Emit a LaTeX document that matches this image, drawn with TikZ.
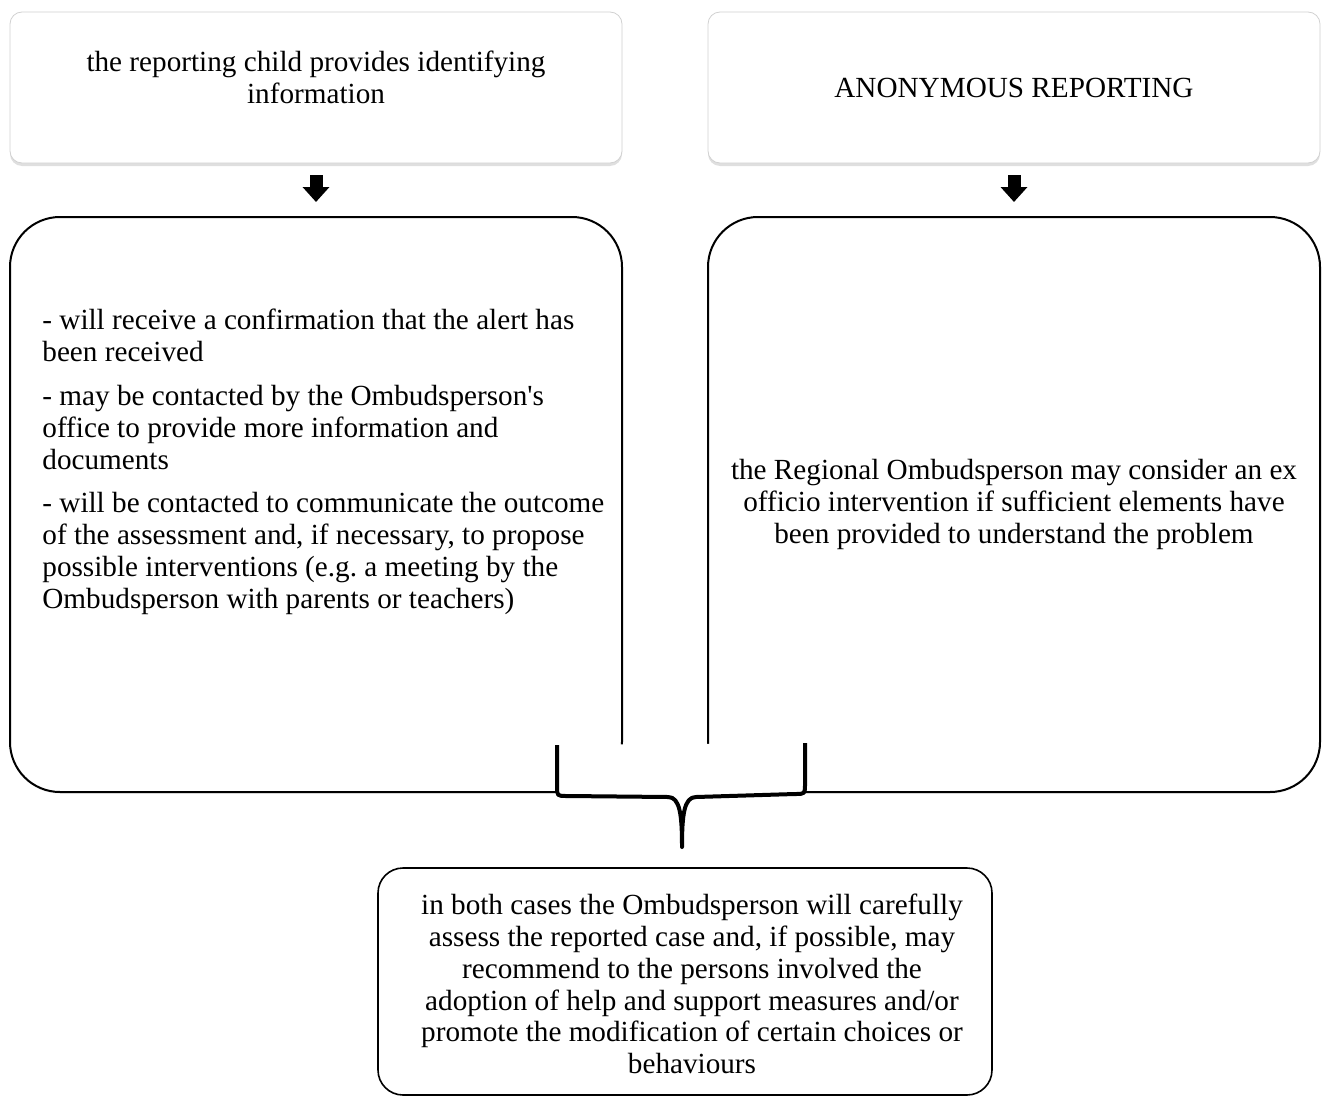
\documentclass[tikz,border=0pt]{standalone}
\usepackage{fontspec}
\setmainfont{Liberation Serif}
\usetikzlibrary{positioning}
\usetikzlibrary{shadows}
\usetikzlibrary{arrows.meta}
\frenchspacing

\begin{document}
\begin{tikzpicture}[
      x=0.5pt, y=-0.5pt,
      font=\fontsize{14.6pt}{15.9pt}\selectfont,
      headbox/.style={draw=black!18, rectangle, rounded corners=6pt, fill=white,
                  minimum width=306pt, minimum height=75.5pt, align=center,
                  drop shadow={shadow xshift=0pt, shadow yshift=-1.5pt, opacity=0.25}},
      infobox/.style={draw, line width=1pt, rounded corners=25pt, fill=white,
                  minimum width=306pt, minimum height=287.5pt, align=center,
                  drop shadow={shadow xshift=0pt, shadow yshift=-0.8pt, opacity=0.15}},
      endbox/.style={draw, line width=0.8pt, rounded corners=12.5pt, fill=white,
                  minimum width=307pt, minimum height=113.5pt, align=center},
      txt/.style={inner sep=0pt, align=left},
      down/.style={line width=6.5pt, -{Triangle[width=13pt,length=7.5pt]},
                  shorten <=6pt, shorten >=7pt},
      brace/.style={line width=2pt, fill=white, line join=round}
    ]
    \useasboundingbox (0,0) rectangle (1327,1097);

    % Top boxes
    \node[headbox] (child) at (316,87.5) {};
    \node[txt, align=center] (childtext) at (316,77)
      {the reporting child provides identifying\\information};
    \node[headbox] (anon) at (1014,87.5) {ANONYMOUS REPORTING};

    % Middle boxes
    \node[infobox] (childinfo) at (316,504.5) {};
    \node[txt, anchor=north west] (childsteps) at (42,309)
      {- will receive a confirmation that the alert has\\
       been received\\[6pt]
       - may be contacted by the Ombudsperson\textquotesingle s\\
       office to provide more information and\\
       documents\\[6pt]
       - will be contacted to communicate the outcome\\
       of the assessment and, if necessary, to propose\\
       possible interventions (e.g. a meeting by the\\
       Ombudsperson with parents or teachers)};
    \node[infobox] (anoninfo) at (1014,504.5)
      {the Regional Ombudsperson may consider an ex\\
       officio intervention if sufficient elements have\\
       been provided to understand the problem};

    % Arrows between boxes
    \draw[down] (child) -- (childinfo);
    \draw[down] (anon) -- (anoninfo);

    % Brace joining both cases
    \coordinate (braceL) at (557,745);
    \coordinate (braceR) at (805,743);
    \coordinate (tip) at (682,847);
    \draw[brace] (braceL) -- (557,786) .. controls (557,796) .. (567,796)
      -- (668,797) .. controls (680,797) and (682,815) .. (tip)
      .. controls (682,815) and (684,797) .. (696,797)
      -- (795,794) .. controls (805,794) .. (805,784) -- (braceR);

    % Outcome
    \node[endbox] (outcome) at (685,981.5) {};
    \node[txt, align=center] (outcometext) at (692,984)
      {in both cases the Ombudsperson will carefully\\
       assess the reported case and, if possible, may\\
       recommend to the persons involved the\\
       adoption of help and support measures and/or\\
       promote the modification of certain choices or\\
       behaviours};

  \end{tikzpicture}
\end{document}
